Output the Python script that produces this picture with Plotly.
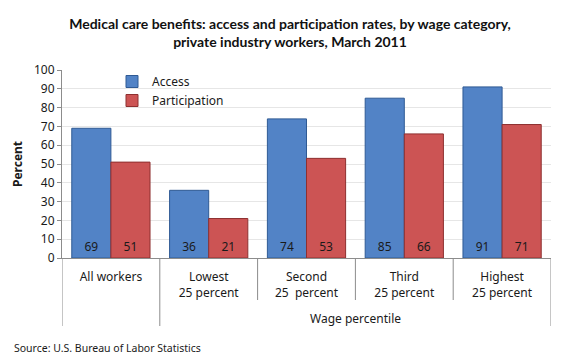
import plotly.graph_objects as go

categories = ["All workers", "Lowest<br>25 percent", "Second<br>25  percent", "Third<br>25 percent", "Highest<br>25 percent"]
access = [69, 36, 74, 85, 91]
participation = [51, 21, 53, 66, 71]
y_ticks = [0, 10, 20, 30, 40, 50, 60, 70, 80, 90, 100]

xs = list(range(len(categories)))
font = "Noto Sans"

# page body has an 8px margin; compensate so screen positions match
OFF = 8
FW, FH = 580, 363

fig = go.Figure()
fig.add_trace(go.Bar(
    x=xs, y=access, name="Access",
    marker=dict(color="#5283C6", line=dict(color="#2F5A94", width=1)),
    text=[str(v) for v in access], textposition="inside", insidetextanchor="start",
    textfont=dict(color="#1a1a1a", size=12, family=font), textangle=0,
))
fig.add_trace(go.Bar(
    x=xs, y=participation, name="Participation",
    marker=dict(color="#CC5454", line=dict(color="#8E3030", width=1)),
    text=[str(v) for v in participation], textposition="inside", insidetextanchor="start",
    textfont=dict(color="#1a1a1a", size=12, family=font), textangle=0,
))

# target screen coordinates of plot area
SL, SR, ST, SB = 62, 551, 70, 258
L = SL - OFF
T = ST - OFF
W = SR - SL
H = SB - ST
R = FW - L - W
B = FH - T - H

def py(sy):
    return (SB - sy) / H

def px(sx):
    return (sx - SL) / W

shapes = []
for b in [-0.5, 0.5, 1.5, 2.5, 3.5, 4.5]:
    bottom = 326 if b in (-0.5, 0.5, 4.5) else 300
    shapes.append(dict(type="line", xref="x", yref="paper", x0=b, x1=b,
                       y0=0, y1=py(bottom), line=dict(color="#8C8C8C", width=1)))

fig.update_layout(
    width=FW, height=FH,
    margin=dict(l=L, r=R, t=T, b=B, autoexpand=False),
    paper_bgcolor="white", plot_bgcolor="white",
    barmode="group", bargap=0.2, bargroupgap=0,
    font=dict(family=font, size=12, color="#1a1a1a"),
    title=dict(text="<b>Medical care benefits: access and participation rates, by wage category,<br>private industry workers, March 2011</b>",
               x=(290 - OFF) / FW, xanchor="center",
               y=1 - (29 - OFF) / FH, yanchor="middle",
               font=dict(family="Lato", size=14, color="#111111")),
    showlegend=True,
    legend=dict(x=px(112), y=py(67), xanchor="left", yanchor="top",
                bgcolor="rgba(0,0,0,0)", font=dict(size=12, family=font),
                itemwidth=30, tracegroupgap=2),
    xaxis=dict(range=[-0.5, 4.5], tickmode="array", tickvals=xs, ticktext=categories,
               showgrid=False, ticks="", showline=True, linecolor="#8C8C8C",
               tickfont=dict(size=12, family=font), ticklabelstandoff=8,
               automargin=False),
    yaxis=dict(range=[0, 100], tickmode="array", tickvals=y_ticks, showgrid=True,
               gridcolor="#E6E6E6", showline=True, linecolor="#8C8C8C",
               ticks="outside", ticklen=4, tickcolor="#8C8C8C",
               tickfont=dict(size=12, family=font), automargin=False,
               title=dict(text="<b>Percent</b>", font=dict(size=12, family=font), standoff=8)),
    shapes=shapes,
    annotations=[
        dict(text="Wage percentile", xref="x", yref="paper", x=2.5, y=py(318),
             showarrow=False, font=dict(size=12, family=font), xanchor="center", yanchor="middle"),
        dict(text="Source: U.S. Bureau of Labor Statistics", xref="paper", yref="paper",
             x=px(12), y=py(348), showarrow=False, xanchor="left", yanchor="middle",
             font=dict(size=10.5, family=font)),
    ],
)

fig.write_html("out.html")
